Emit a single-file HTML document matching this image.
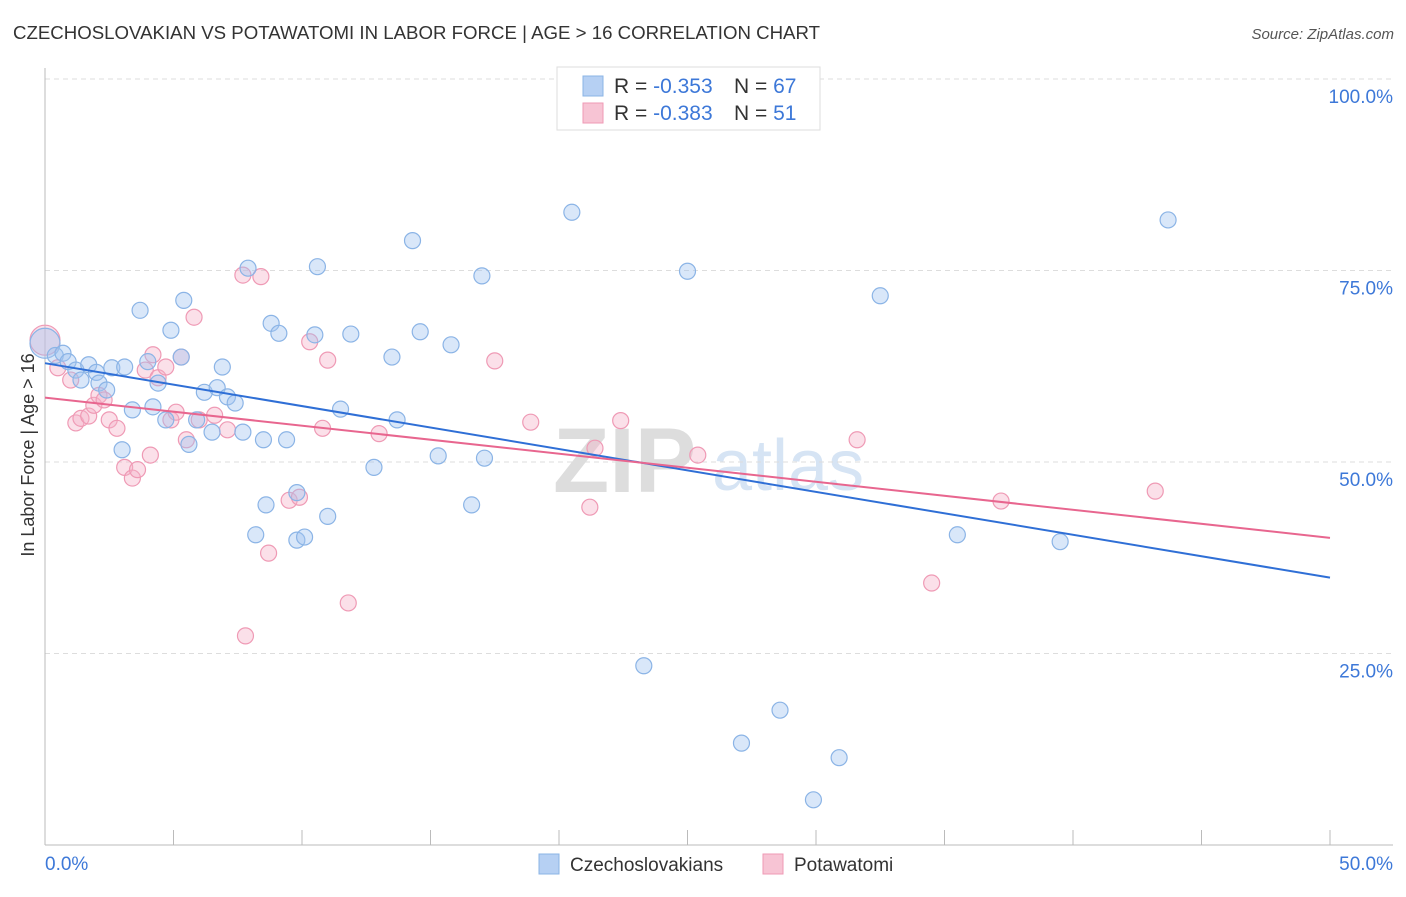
<!DOCTYPE html>
<html><head><meta charset="utf-8"><style>
body{margin:0;background:#fff;font-family:"Liberation Sans",sans-serif;}
svg text{font-family:"Liberation Sans",sans-serif;}
</style></head><body>
<svg id="chart" width="1406" height="892" viewBox="0 0 1406 892">
<text x="13" y="39" font-size="18" fill="#333" textLength="807" lengthAdjust="spacingAndGlyphs">CZECHOSLOVAKIAN VS POTAWATOMI IN LABOR FORCE | AGE &gt; 16 CORRELATION CHART</text>
<text x="1394" y="39" font-size="15" fill="#555" font-style="italic" text-anchor="end">Source: ZipAtlas.com</text>
<g>
<text x="553" y="492" font-size="92" fill="#ddd" font-family="Liberation Serif" font-weight="bold">ZIP</text>
<text x="712" y="490" font-size="72" fill="#d6e4f4">atlas</text>
</g>
<g id="grid"></g><g id="axes"></g><g id="marks"></g>
<text transform="translate(34,455) rotate(-90)" font-size="18" fill="#333" text-anchor="middle">In Labor Force | Age &gt; 16</text>
<g>
<rect x="557" y="67" width="263" height="63" fill="#fff" stroke="#ddd"/>
<rect x="583" y="76" width="20" height="20" fill="#b6d0f3" stroke="#8bb4e6"/>
<rect x="583" y="103" width="20" height="20" fill="#f7c4d4" stroke="#ef9ab5"/>
<text x="614" y="93" font-size="21" fill="#333">R = <tspan fill="#3d78d8">-0.353</tspan></text>
<text x="734" y="93" font-size="21" fill="#333">N = <tspan fill="#3d78d8">67</tspan></text>
<text x="614" y="120" font-size="21" fill="#333">R = <tspan fill="#3d78d8">-0.383</tspan></text>
<text x="734" y="120" font-size="21" fill="#333">N = <tspan fill="#3d78d8"> 51</tspan></text>
</g>
<g>
<rect x="539" y="854" width="20" height="20" fill="#b6d0f3" stroke="#8bb4e6"/>
<text x="570" y="871" font-size="19" fill="#333">Czechoslovakians</text>
<rect x="763" y="854" width="20" height="20" fill="#f7c4d4" stroke="#ef9ab5"/>
<text x="794" y="871" font-size="19" fill="#333">Potawatomi</text>
</g>
</svg>
<script>
const yTicks=[100,75,50,25];
const yTickLabels=["100.0%","75.0%","50.0%","25.0%"];
const xEndLabels=["0.0%","50.0%"];
const czechX=[0,0.4,0.7,0.9,1.2,1.4,1.7,2.0,2.1,2.4,2.6,3.0,3.1,3.4,3.7,4.0,4.2,4.4,4.7,4.9,5.3,5.4,5.6,5.9,6.2,6.5,6.7,6.9,7.1,7.4,7.7,7.9,8.2,8.5,8.6,8.8,9.1,9.4,9.8,9.8,10.1,10.6,10.5,11.0,11.5,11.9,12.8,13.5,13.7,14.3,14.6,15.3,15.8,16.6,17.0,17.1,20.5,23.3,25.0,27.1,28.6,29.9,30.9,32.5,35.5,39.5,43.7];
const czechY=[65.5,63.9,64.2,63.1,62.0,60.7,62.7,61.7,60.3,59.4,62.3,51.6,62.4,56.8,69.8,63.1,57.2,60.3,55.5,67.2,63.7,71.1,52.3,55.5,59.1,53.9,59.7,62.4,58.5,57.7,53.9,75.3,40.5,52.9,44.4,68.1,66.8,52.9,46.0,39.8,40.2,75.5,66.6,42.9,56.9,66.7,49.3,63.7,55.5,78.9,67.0,50.8,65.3,44.4,74.3,50.5,82.6,23.4,74.9,13.3,17.6,5.9,11.4,71.7,40.5,39.6,81.6];
const potaX=[0,0.5,1.0,1.2,1.4,1.7,1.9,2.1,2.3,2.5,2.8,3.1,3.4,3.6,3.9,4.1,4.2,4.4,4.7,4.9,5.1,5.3,5.5,5.8,6.0,6.6,7.1,7.7,7.8,8.4,8.7,9.5,9.9,10.3,10.8,11.0,11.8,13.0,17.5,18.9,21.2,21.4,22.4,25.4,31.6,34.5,37.2,43.2];
const potaY=[65.9,62.3,60.7,55.1,55.7,56.0,57.4,58.7,58.1,55.5,54.4,49.3,47.9,49.0,62.0,50.9,64.0,61.0,62.4,55.5,56.5,63.7,52.9,68.9,55.5,56.1,54.2,74.4,27.3,74.2,38.1,45.0,45.4,65.7,54.4,63.3,31.6,53.7,63.2,55.2,44.1,51.8,55.4,50.9,52.9,34.2,44.9,46.2];
const czechTrend=[62.9,34.9];
const potaTrend=[58.4,40.1];
const NS="http://www.w3.org/2000/svg";
const X=v=>45+v/50*1285, Y=v=>845-v/100*766;
function mk(tag,attrs,parent){const e=document.createElementNS(NS,tag);for(const k in attrs)e.setAttribute(k,attrs[k]);parent.appendChild(e);return e;}
const grid=document.getElementById('grid'),axes=document.getElementById('axes'),marks=document.getElementById('marks');
yTicks.forEach((t,i)=>{
 const l=mk('line',{x1:45,x2:1393,y1:Y(t),y2:Y(t),stroke:'#ddd','stroke-dasharray':'5,4'},grid);
 
 
 const tx=mk('text',{x:1393,y:Y(t)+24,'font-size':19,fill:'#3d78d8','text-anchor':'end'},axes);
 tx.textContent=yTickLabels[i];
 
 
});
const ax=mk('line',{x1:45,x2:45,y1:68,y2:845,stroke:'#bbb'},axes);


const bx=mk('line',{x1:45,x2:1393,y1:845,y2:845,stroke:'#bbb'},axes);


for(let i=1;i<=10;i++){
 const t=mk('line',{x1:X(i*5),x2:X(i*5),y1:830,y2:845,stroke:'#bbb'},axes);
 
 
}
[[45,'start'],[1393,'end']].forEach((p,i)=>{
 const t=mk('text',{x:p[0],y:870,'font-size':19,fill:'#3d78d8','text-anchor':p[1]},axes);
 t.textContent=xEndLabels[i];
 
 
});
function series(xs,ys,fill,stroke,name){
 xs.forEach((x,i)=>{
  const c=mk('circle',{cx:X(x),cy:Y(ys[i]),r:i===0?15:8,fill:fill,stroke:stroke,'stroke-width':1.2},marks);
  
  
 });
}
series(potaX,potaY,'rgba(244,178,200,0.4)','#ef9ab5','pota');
series(czechX,czechY,'rgba(160,196,240,0.4)','#8bb4e6','czech');
const tl1=mk('line',{x1:X(0),y1:Y(czechTrend[0]),x2:X(50),y2:Y(czechTrend[1]),stroke:'#2f6fd6','stroke-width':2},marks);


const tl2=mk('line',{x1:X(0),y1:Y(potaTrend[0]),x2:X(50),y2:Y(potaTrend[1]),stroke:'#e8668f','stroke-width':2},marks);


</script>
</body></html>
